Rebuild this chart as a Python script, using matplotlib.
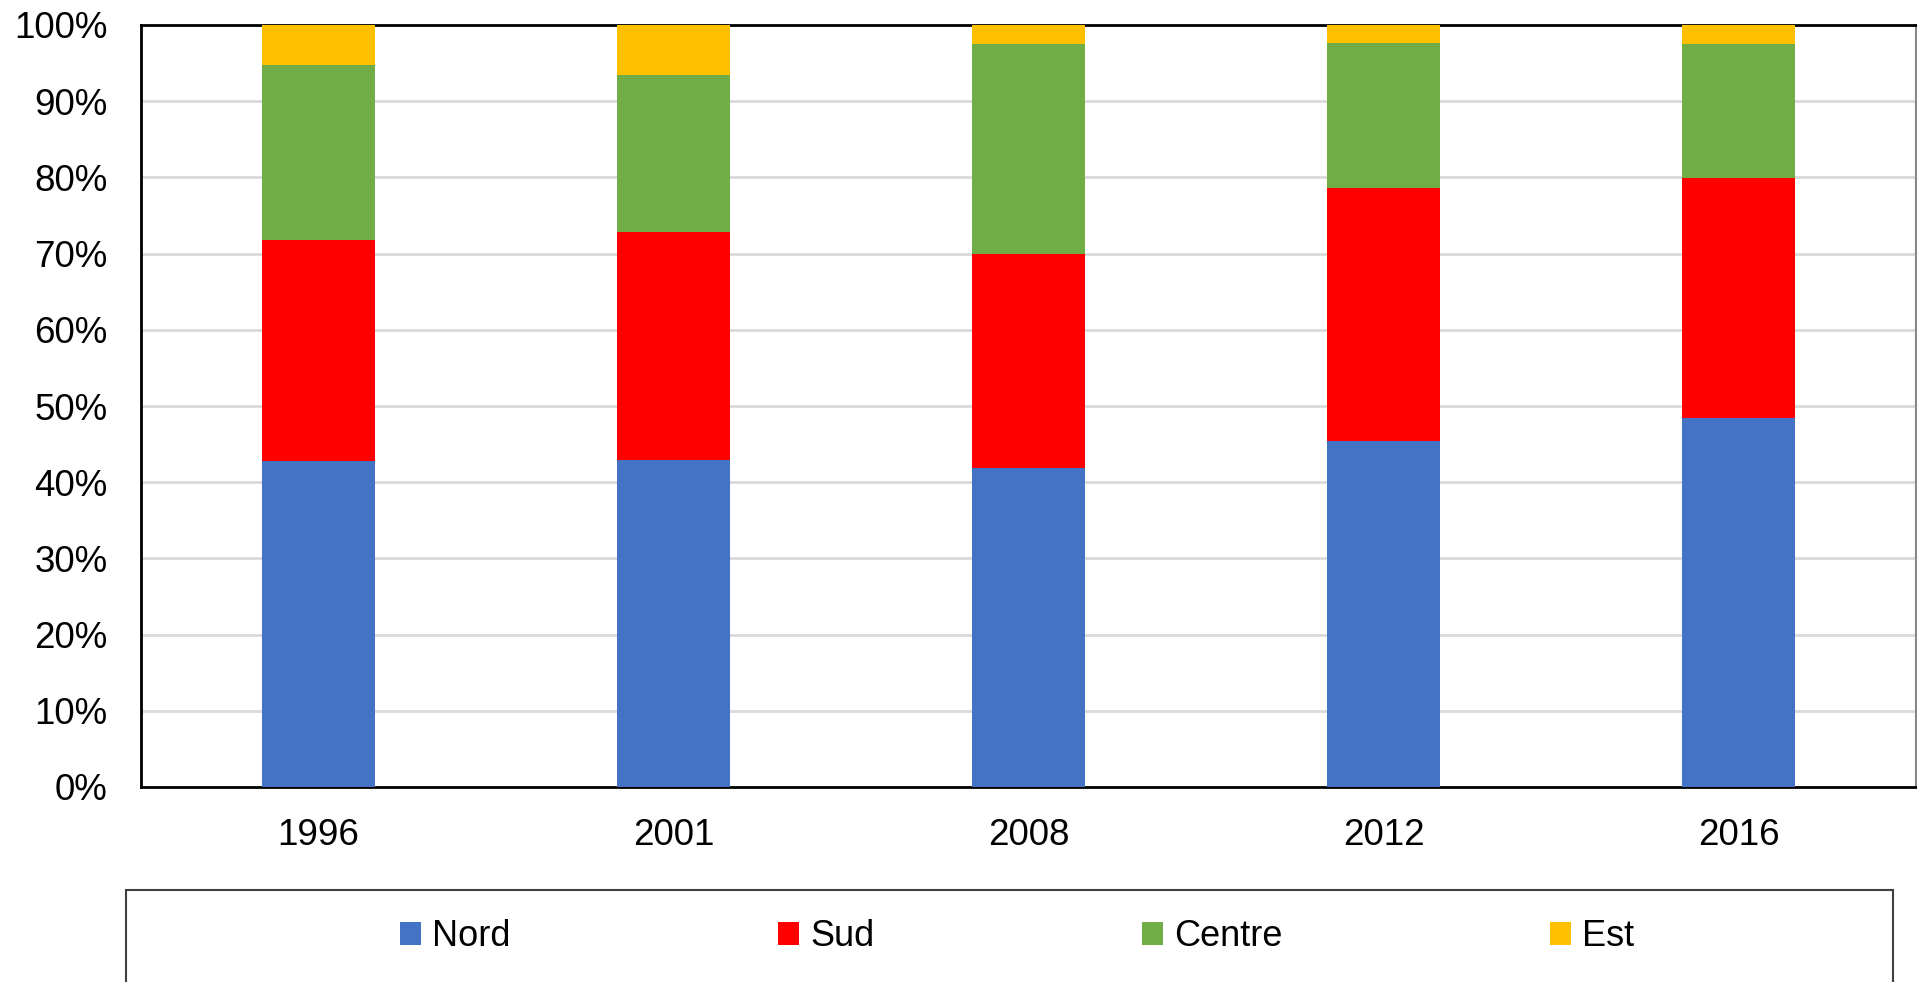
import matplotlib.pyplot as plt
from matplotlib.patches import Patch, Rectangle
from matplotlib.ticker import PercentFormatter
import numpy as np

plt.rcParams['font.family'] = ['Liberation Sans', 'DejaVu Sans']

years = ['1996', '2001', '2008', '2012', '2016']
regions = ['Nord', 'Sud', 'Centre', 'Est']
colors = ['#4472c4', '#ff0000', '#70ad47', '#ffc000']

# shares in %
nord = [42.8, 42.9, 41.9, 45.4, 48.4]
sud = [29.0, 30.0, 28.1, 33.2, 31.5]
centre = [22.9, 20.6, 27.5, 19.0, 17.6]
est = [5.3, 6.5, 2.5, 2.4, 2.5]


def main():
    fig = plt.figure(figsize=(19.17, 9.82), dpi=100)
    ax = fig.add_axes([141 / 1917, 1 - 787 / 982, 1775 / 1917, 762 / 982])

    x = np.arange(len(years))
    bottom = np.zeros(len(years))
    for vals, col in zip([nord, sud, centre, est], colors):
        vals = np.array(vals)
        ax.bar(x, vals, width=0.32, bottom=bottom, color=col, zorder=3)
        bottom += vals

    ax.set_xlim(-0.5, len(years) - 0.5)
    ax.set_ylim(0, 100)
    ax.set_yticks(np.arange(0, 101, 10))
    ax.yaxis.set_major_formatter(PercentFormatter(decimals=0))
    ax.set_xticks(x)
    ax.set_xticklabels(years)
    ax.tick_params(length=0, labelsize=26.5, colors='black')
    ax.tick_params(axis='x', pad=22)
    ax.tick_params(axis='y', pad=24)
    ax.grid(axis='y', color='#d9d9d9', linewidth=2, zorder=0)

    for side in ['left', 'bottom', 'top']:
        ax.spines[side].set_color('black')
        ax.spines[side].set_linewidth(2)
    ax.spines['right'].set_color('#888888')
    ax.spines['right'].set_linewidth(1.5)

    # legend box running off the bottom of the figure
    fig.patches.append(Rectangle((126 / 1917, -0.05), 1767 / 1917, 0.05 + 92 / 982,
                                 transform=fig.transFigure, fill=False,
                                 edgecolor='#404040', linewidth=1.5))

    handles = [Patch(facecolor=c, edgecolor='none') for c in colors]
    fig.legend(handles, regions, loc='center', bbox_to_anchor=(1017 / 1917, 1 - 937 / 982),
               ncol=4, frameon=False, fontsize=26, handlelength=0.6, handleheight=0.6,
               handletextpad=0.3, columnspacing=7.4, borderpad=0)

    fig.savefig('out.png', dpi=100)


if __name__ == '__main__':
    main()
